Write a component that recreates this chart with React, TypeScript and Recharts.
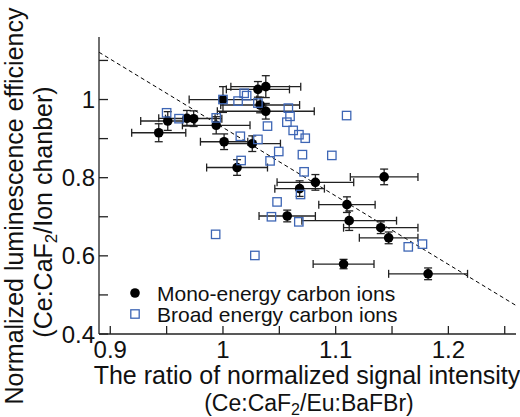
import React from 'react';
import { ScatterChart, Scatter, XAxis, YAxis, ErrorBar, ReferenceLine } from 'recharts';

// mono-energy carbon ions (black circles, with error bars)
const MONO_X = [0.943, 0.951, 0.968, 0.974, 0.994, 1.0, 1.001, 1.0125, 1.026, 1.031, 1.038, 1.033, 1.038, 1.068, 1.082, 1.057, 1.11, 1.112, 1.14, 1.147, 1.107, 1.182, 1.143];
const MONO_Y = [0.915, 0.945, 0.952, 0.951, 0.934, 1.0, 0.892, 0.826, 0.887, 1.026, 1.033, 0.986, 0.97, 0.772, 0.788, 0.702, 0.731, 0.69, 0.672, 0.646, 0.579, 0.554, 0.802];
const MONO_XERR = [0.024, 0.024, 0.025, 0.025, 0.03, 0.03, 0.021, 0.027, 0.025, 0.028, 0.031, 0.035, 0.043, 0.022, 0.034, 0.025, 0.025, 0.042, 0.033, 0.026, 0.027, 0.035, 0.03];
const MONO_YERR = [0.023, 0.024, 0.02, 0.02, 0.022, 0.033, 0.02, 0.02, 0.02, 0.02, 0.028, 0.02, 0.02, 0.02, 0.02, 0.015, 0.02, 0.025, 0.015, 0.015, 0.012, 0.015, 0.02];

// broad energy carbon ions (open blue squares)
const BROAD_X = [0.95, 0.961, 0.994, 1.0, 1.0134, 1.0188, 1.021, 1.031, 1.058, 1.0595, 1.0567, 1.0623, 1.0674, 1.073, 1.0395, 1.0154, 1.031, 1.0495, 1.0705, 1.0418, 1.0161, 1.072, 1.1097, 1.0966, 1.0688, 1.048, 1.043, 1.0673, 0.9935, 1.0283, 1.1644, 1.177];
const BROAD_Y = [0.966, 0.951, 0.953, 1.0, 0.996, 1.016, 1.01, 0.991, 0.978, 0.957, 0.942, 0.921, 0.91, 0.901, 0.932, 0.906, 0.898, 0.867, 0.859, 0.843, 0.844, 0.815, 0.959, 0.857, 0.757, 0.738, 0.7, 0.687, 0.655, 0.601, 0.623, 0.63];

// dashed guide line
const FIT_X = [0.89, 1.26];
const FIT_Y = [1.121, 0.473];

const X_TICKS = [0.9, 0.95, 1.0, 1.05, 1.1, 1.15, 1.2, 1.25];
const X_LABELS = ['0.9', '', '1', '', '1.1', '', '1.2', ''];
const Y_TICKS = [0.4, 0.5, 0.6, 0.7, 0.8, 0.9, 1.0, 1.1];
const Y_LABELS = ['0.4', '', '0.6', '', '0.8', '', '1', ''];

const monoData = MONO_X.map((x, i) => ({ x, y: MONO_Y[i], xe: MONO_XERR[i], ye: MONO_YERR[i] }));
const broadData = BROAD_X.map((x, i) => ({ x, y: BROAD_Y[i] }));

const FONT = '"Liberation Sans", Arial, sans-serif';
const AXIS = '#222';
const BLUE = '#3e66b5';

const BottomTick = (p: any) => (
  <g>
    <line x1={p.x} y1={p.y} x2={p.x} y2={p.y - 8} stroke={AXIS} strokeWidth={1.3} />
    <text x={p.x} y={p.y + 24} textAnchor="middle" fontSize={24} fontFamily={FONT} fill="#111">
      {X_LABELS[p.index]}
    </text>
  </g>
);
const TopTick = (p: any) => <line x1={p.x} y1={p.y} x2={p.x} y2={p.y + 8} stroke={AXIS} strokeWidth={1.3} />;
const LeftTick = (p: any) => (
  <g>
    <line x1={p.x} y1={p.y} x2={p.x + 9} y2={p.y} stroke={AXIS} strokeWidth={1.3} />
    <text x={p.x - 4} y={p.y} dy="0.36em" textAnchor="end" fontSize={24} fontFamily={FONT} fill="#111">
      {Y_LABELS[p.index]}
    </text>
  </g>
);
const RightTick = (p: any) => <line x1={p.x} y1={p.y} x2={p.x - 9} y2={p.y} stroke={AXIS} strokeWidth={1.3} />;

const Dot = (p: any) => <circle cx={p.cx} cy={p.cy} r={4.8} fill="#000" />;
const Square = (p: any) => (
  <rect x={p.cx - 4.2} y={p.cy - 4.2} width={8.4} height={8.4} fill="none" stroke={BLUE} strokeWidth={1.3} />
);

export default function App() {
  return (
    <div style={{ position: 'absolute', left: 0, top: 0, width: 520, height: 417, background: '#fff' }}>
      <ScatterChart width={520} height={417} margin={{ top: 37, right: 4, bottom: 0, left: 0 }}>
        <XAxis xAxisId="b" type="number" dataKey="x" domain={[0.89, 1.26]} ticks={X_TICKS} interval={0}
          height={83} tickSize={0} tickMargin={0} tickLine={false} tick={BottomTick}
          axisLine={{ stroke: AXIS, strokeWidth: 1.3 }} allowDataOverflow />
        <XAxis xAxisId="t" orientation="top" type="number" dataKey="x" domain={[0.89, 1.26]} ticks={X_TICKS} interval={0}
          height={0} tickSize={0} tickMargin={0} tickLine={false} tick={TopTick}
          axisLine={{ stroke: AXIS, strokeWidth: 1.3 }} allowDataOverflow />
        <YAxis yAxisId="l" type="number" dataKey="y" domain={[0.4, 1.16]} ticks={Y_TICKS} interval={0}
          width={99} tickSize={0} tickMargin={0} tickLine={false} tick={LeftTick}
          axisLine={{ stroke: AXIS, strokeWidth: 1.3 }} allowDataOverflow />
        <YAxis yAxisId="r" orientation="right" type="number" dataKey="y" domain={[0.4, 1.16]} ticks={Y_TICKS} interval={0}
          width={0} tickSize={0} tickMargin={0} tickLine={false} tick={RightTick}
          axisLine={{ stroke: AXIS, strokeWidth: 1.3 }} allowDataOverflow />

        <ReferenceLine xAxisId="b" yAxisId="l"
          segment={[{ x: FIT_X[0], y: FIT_Y[0] }, { x: FIT_X[1], y: FIT_Y[1] }]}
          stroke="#000" strokeWidth={1} strokeDasharray="4 3" />

        {/* keeps the top/right axes bound to data */}
        <Scatter xAxisId="t" yAxisId="r" data={monoData} shape={() => <g />} isAnimationActive={false} />

        <Scatter xAxisId="b" yAxisId="l" data={monoData} shape={Dot} isAnimationActive={false}>
          <ErrorBar dataKey="xe" direction="x" width={4} stroke={AXIS} strokeWidth={1.3} isAnimationActive={false} />
          <ErrorBar dataKey="ye" direction="y" width={4} stroke={AXIS} strokeWidth={1.3} isAnimationActive={false} />
        </Scatter>
        <Scatter xAxisId="b" yAxisId="l" data={broadData} shape={Square} isAnimationActive={false} />
      </ScatterChart>

      <svg width={520} height={417} style={{ position: 'absolute', left: 0, top: 0, pointerEvents: 'none' }}
        fontFamily={FONT} fill="#111">
        <text x={307} y={384} textAnchor="middle" fontSize={25}>The ratio of normalized signal intensity</text>
        <text x={309} y={411} textAnchor="middle" fontSize={23}>
          (Ce:CaF<tspan dy={4} fontSize={16}>2</tspan><tspan dy={-4}>/Eu:BaFBr)</tspan>
        </text>
        <text transform="translate(23,206) rotate(-90)" textAnchor="middle" fontSize={25}>
          Normalized luminescence efficiency
        </text>
        <text transform="translate(52,212) rotate(-90)" textAnchor="middle" fontSize={25}>
          (Ce:CaF<tspan dy={5} fontSize={17}>2</tspan><tspan dy={-5}>/Ion chanber)</tspan>
        </text>

        <circle cx={135} cy={293} r={4.8} fill="#000" />
        <text x={157} y={293} dy="0.36em" fontSize={21}>Mono-energy carbon ions</text>
        <rect x={130.8} y={309.8} width={8.4} height={8.4} fill="none" stroke={BLUE} strokeWidth={1.3} />
        <text x={157} y={314} dy="0.36em" fontSize={21}>Broad energy carbon ions</text>
      </svg>
    </div>
  );
}
